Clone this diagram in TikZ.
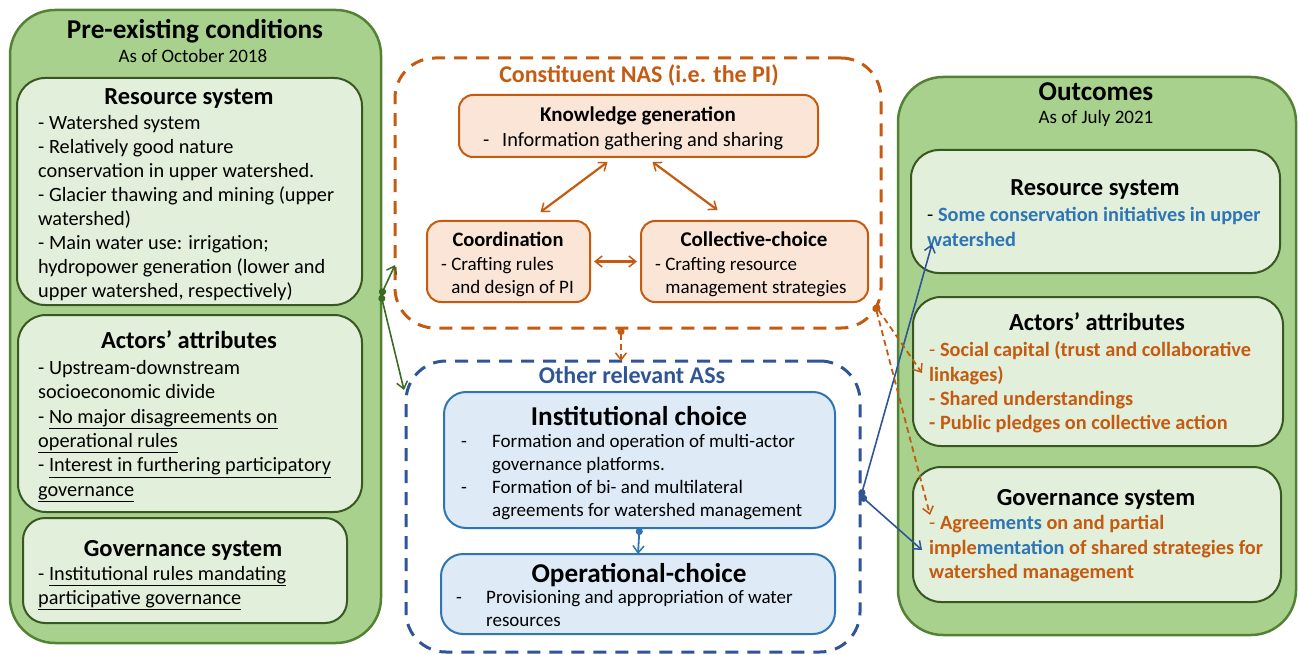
\documentclass[tikz,border=0pt]{standalone}
\usepackage{fontspec}
\setmainfont{Carlito}
\usetikzlibrary{arrows.meta}
\definecolor{ogreen}{HTML}{A9D18E}
\definecolor{ogreenb}{HTML}{548235}
\definecolor{igreen}{HTML}{E2EFDA}
\definecolor{igreenb}{HTML}{385723}
\definecolor{orng}{HTML}{C55A11}
\definecolor{peach}{HTML}{FBE5D6}
\definecolor{dblue}{HTML}{2F5597}
\definecolor{mblue}{HTML}{2E75B6}
\definecolor{lblue}{HTML}{DEEBF7}
\definecolor{arrgreen}{HTML}{3B6A24}
\tikzset{
  barb/.tip={Straight Barb[length=7pt,width=11pt,line width=1.5pt]},
  blob/.tip={Circle[length=7pt]}
}
\begin{document}
\begin{tikzpicture}[x=1pt,y=-1pt,
  box/.style={anchor=north west, inner sep=0pt, outer sep=0pt},
  outerbox/.style={box, draw=ogreenb, fill=ogreen, line width=2.5pt, rounded corners=45pt},
  innerbox/.style={box, draw=igreenb, fill=igreen, line width=2pt, rounded corners=28pt},
  nasbox/.style={box, draw=orng, line width=3pt, dash pattern=on 13pt off 9pt, rounded corners=40pt},
  asbox/.style={box, draw=dblue, line width=3pt, dash pattern=on 13pt off 9pt, rounded corners=40pt},
  peachbox/.style={box, draw=orng, fill=peach, line width=2pt, rounded corners=14pt},
  bluebox/.style={box, draw=mblue, fill=lblue, line width=2pt, rounded corners=22pt},
  body/.style={anchor=north west, align=left, inner sep=0pt, font=\fontsize{20.3}{24}\selectfont},
  midbody/.style={anchor=north west, align=left, inner sep=0pt, font=\fontsize{19}{23}\selectfont},
  ttl/.style={anchor=base, inner sep=0pt, font=\fontsize{24.5}{28}\selectfont\bfseries},
  bigttl/.style={anchor=base, inner sep=0pt, font=\fontsize{27.2}{30}\selectfont\bfseries},
  midttl/.style={anchor=base, inner sep=0pt, font=\fontsize{21}{24}\selectfont\bfseries},
  sub/.style={anchor=base, inner sep=0pt, font=\fontsize{19}{24}\selectfont},
  garrow/.style={draw=arrgreen, line width=1.6pt, blob-barb},
  barrow/.style={draw=dblue, line width=1.6pt, blob-barb},
  oarrow/.style={draw=orng, line width=1.8pt, dash pattern=on 6pt off 4pt, blob-barb},
  obiarrow/.style={draw=orng, line width=2.2pt, barb-barb},
]
\useasboundingbox (0,0) rectangle (1298,655);

% ---------------- Left: pre-existing conditions
\node[outerbox, minimum width=371pt, minimum height=633pt] (pre) at (10,10) {};
\node[bigttl] (pretitle) at (195,39) {Pre-existing conditions};
\node[sub] (presub) at (193,63) {As of October 2018};

\node[innerbox, minimum width=345pt, minimum height=227pt] (lrs) at (17,78) {};
\node[ttl] (lrstitle) at (189,105) {Resource system};
\node[body] (lrstext) at (38,112.2) {\strut- Watershed system\\
- Relatively good nature\\
conservation in upper watershed.\\
- Glacier thawing and mining (upper\\
watershed)\\
- Main water use: irrigation;\\
hydropower generation (lower and\\
upper watershed, respectively)};

\node[innerbox, minimum width=344pt, minimum height=197pt] (laa) at (18,315) {};
\node[ttl] (laatitle) at (189,348) {Actors’ attributes};
\node[body, font=\fontsize{20.3}{24.4}\selectfont] (laatext) at (38,357) {\strut- Upstream-downstream\\
socioeconomic divide\\
- \underline{No major disagreements on}\\
\underline{operational rules}\\
- \underline{Interest in furthering participatory}\\
\underline{governance}};

\node[innerbox, rounded corners=22pt, minimum width=324pt, minimum height=105pt] (lgs) at (23,518) {};
\node[ttl] (lgstitle) at (183,556) {Governance system};
\node[body] (lgstext) at (38,563) {\strut- \underline{Institutional rules mandating}\\
\underline{participative governance}};

% ---------------- Middle: constituent NAS
\node[nasbox, minimum width=486pt, minimum height=270pt] (nas) at (395,58) {};
\node[anchor=base, inner sep=0pt, text=orng, font=\fontsize{24}{28}\selectfont\bfseries] (nastitle) at (639,83) {Constituent NAS (i.e. the PI)};

\node[peachbox, minimum width=359pt, minimum height=62pt] (kg) at (459,95) {};
\node[midttl] (kgtitle) at (638,122) {Knowledge generation};
\node[body] (kgtext) at (483,129.2) {\strut\makebox[19pt][l]{-}Information gathering and sharing};

\node[peachbox, minimum width=163pt, minimum height=81pt] (coord) at (427,221) {};
\node[midttl, font=\fontsize{20.5}{24}\selectfont\bfseries] (coordtitle) at (508,247) {Coordination};
\node[midbody] (coordtext) at (441,253.9) {\strut- Crafting rules\\
\phantom{- }and design of PI};

\node[peachbox, minimum width=227pt, minimum height=81pt] (coll) at (641,221) {};
\node[midttl] (colltitle) at (754,247) {Collective-choice};
\node[midbody] (colltext) at (655,253.9) {\strut- Crafting resource\\
\phantom{- }management strategies};

\draw[obiarrow] ([xshift=-31pt,yshift=-5pt]kg.south) -- ([xshift=32pt,yshift=9pt]coord.north);
\draw[obiarrow] ([xshift=14pt,yshift=-5pt]kg.south) -- ([xshift=-37pt,yshift=11pt]coll.north);
\draw[obiarrow] ([xshift=4pt]coord.east) -- ([xshift=-4pt]coll.west);

% ---------------- Middle: other relevant ASs
\node[asbox, minimum width=454pt, minimum height=291pt] (as) at (406,361) {};
\node[anchor=base, inner sep=0pt, text=dblue, font=\fontsize{24}{28}\selectfont\bfseries] (astitle) at (632,383) {Other relevant ASs};

\node[bluebox, minimum width=391pt, minimum height=136pt] (inst) at (444,392) {};
\node[bigttl] (insttitle) at (639,425) {Institutional choice};
\node[midbody] (insttext) at (461,431.2) {\strut\makebox[31pt][l]{-}Formation and operation of multi-actor\\
\hspace*{31pt}governance platforms.\\
\makebox[31pt][l]{-}Formation of bi- and multilateral\\
\hspace*{31pt}agreements for watershed management};

\node[bluebox, minimum width=394pt, minimum height=80pt] (oper) at (441,554) {};
\node[bigttl] (opertitle) at (639,582) {Operational-choice};
\node[midbody] (opertext) at (456,587.2) {\strut\makebox[30pt][l]{-}Provisioning and appropriation of water\\
\hspace*{30pt}resources};

\draw[draw=mblue, line width=1.8pt, blob-barb] (inst.south) -- (oper.north);
\draw[oarrow] ([xshift=-17pt]nas.south) -- ([xshift=-17pt]nas.south |- as.north);

% ---------------- Right: outcomes
\node[outerbox, minimum width=398pt, minimum height=558pt] (out) at (898,77) {};
\node[bigttl] (outtitle) at (1096,101) {Outcomes};
\node[sub] (outsub) at (1096,124) {As of July 2021};

\node[innerbox, minimum width=369pt, minimum height=123pt] (rrs) at (911,150) {};
\node[ttl] (rrstitle) at (1095,196) {Resource system};
\node[body, font=\fontsize{20.3}{25}\selectfont] (rrstext) at (927,203.5) {\strut- \textcolor{mblue}{\bfseries Some conservation initiatives in upper}\\
\textcolor{mblue}{\bfseries watershed}};

\node[innerbox, minimum width=370pt, minimum height=149pt] (raa) at (913,297) {};
\node[ttl] (raatitle) at (1097,330) {Actors’ attributes};
\node[body, text=orng, font=\fontsize{20.3}{24.3}\selectfont] (raatext) at (929,339.5) {\strut- \textbf{Social capital (trust and collaborative}\\
\textbf{linkages)}\\
\textbf{- Shared understandings}\\
\textbf{- Public pledges on collective action}};

\node[innerbox, minimum width=368pt, minimum height=135pt] (rgs) at (913,467) {};
\node[ttl] (rgstitle) at (1096,505) {Governance system};
\node[body, text=orng, font=\fontsize{20.3}{24.5}\selectfont] (rgstext) at (929,512.5) {\strut- \textbf{Agree\textcolor{mblue}{ments} on and partial}\\
\textbf{imple\textcolor{mblue}{mentation} of shared strategies for}\\
\textbf{watershed management}};

% ---------------- Connectors
\coordinate (gsrc) at (381,295);
\coordinate (gend1) at (395,265);
\coordinate (gend2) at (404,390);
\draw[garrow] (gsrc) -- (gend1);
\draw[garrow] (gsrc) -- (gend2);

\coordinate (bsrc) at (861,496);
\coordinate (bend1) at (932,244);
\coordinate (bend2) at (922,550);
\draw[barrow] (bsrc) -- (bend1);
\draw[barrow] (bsrc) -- (bend2);

\coordinate (osrc) at (875,305);
\coordinate (oend1) at (922,373);
\coordinate (oend2) at (930,515);
\draw[oarrow] (osrc) -- (oend1);
\draw[oarrow] (osrc) -- (oend2);
\end{tikzpicture}
\end{document}
